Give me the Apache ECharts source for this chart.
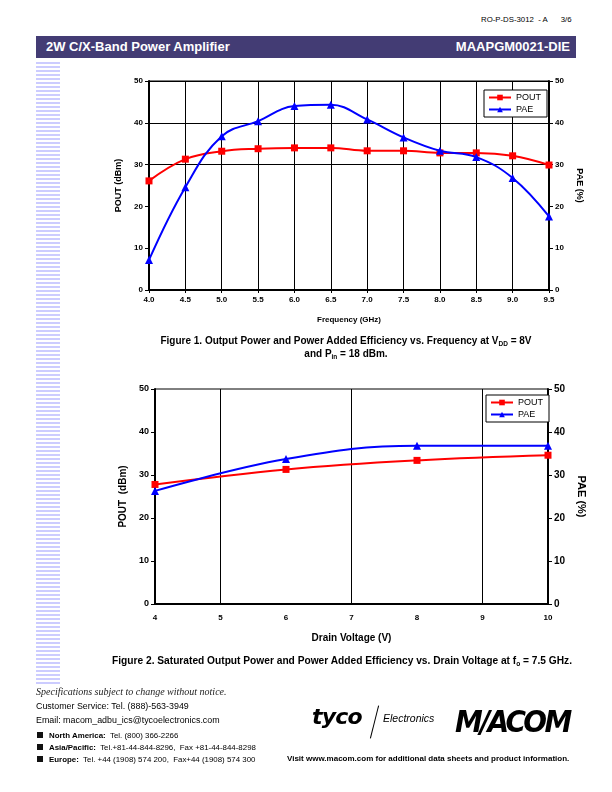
<!DOCTYPE html>
<html><head><meta charset="utf-8">
<script src="https://cdn.jsdelivr.net/npm/echarts@6/dist/echarts.min.js"></script>
<style>
html,body{margin:0;padding:0;background:#fff;}
body{width:612px;height:792px;position:relative;overflow:hidden;font-family:"Liberation Sans",Arial,sans-serif;}
#chart{position:absolute;left:0;top:0;width:612px;height:792px;}
.t{position:absolute;white-space:nowrap;color:#000;}
#stripes{position:absolute;left:36px;top:62px;width:24px;height:624px;
background:repeating-linear-gradient(to bottom,#ccccff 0px,#ccccff 2px,#ffffff 2px,#ffffff 4px);}
#banner{position:absolute;left:36px;top:36px;width:540px;height:22px;background:#433c74;}
sub{font-size:65%;vertical-align:-2px;}
</style></head>
<body>
<div id="stripes"></div>
<div id="banner"></div>
<div class="t" style="left:481px;top:15px;font-size:7.8px;">RO-P-DS-3012&nbsp; - A&nbsp;&nbsp;&nbsp;&nbsp;&nbsp; 3/6</div>
<div class="t" style="left:46px;top:39px;font-size:13px;font-weight:bold;color:#fff;">2W C/X-Band Power Amplifier</div>
<div class="t" style="right:42px;top:39px;font-size:13px;font-weight:bold;color:#fff;">MAAPGM0021-DIE</div>
<div id="chart"></div>
<div class="t" style="left:0;width:692px;top:335px;font-size:10px;font-weight:bold;text-align:center;">Figure 1. Output Power and Power Added Efficiency vs. Frequency at V<sub>DD</sub> = 8V</div>
<div class="t" style="left:0;width:692px;top:348px;font-size:10px;font-weight:bold;text-align:center;">and P<sub>in</sub> = 18 dBm.</div>
<div class="t" style="left:112px;top:655px;font-size:10.2px;font-weight:bold;">Figure 2. Saturated Output Power and Power Added Efficiency vs. Drain Voltage at f<sub>o</sub> = 7.5 GHz.</div>

<div class="t" style="left:36px;top:686px;font-size:10px;font-style:italic;font-family:'Liberation Serif',serif;color:#222;">Specifications subject to change without notice.</div>
<div class="t" style="left:36px;top:701px;font-size:8.9px;">Customer Service: Tel. (888)-563-3949</div>
<div class="t" style="left:36px;top:715px;font-size:8.9px;">Email: macom_adbu_ics@tycoelectronics.com</div>
<div class="t" style="left:37px;top:731px;font-size:7.9px;"><span style="display:inline-block;width:6px;height:6px;background:#111;margin-right:6px;"></span><b>North America:</b>&nbsp; Tel. (800) 366-2266</div>
<div class="t" style="left:37px;top:743px;font-size:7.9px;"><span style="display:inline-block;width:6px;height:6px;background:#111;margin-right:6px;"></span><b>Asia/Pacific:</b>&nbsp; Tel.+81-44-844-8296,&nbsp; Fax +81-44-844-8298</div>
<div class="t" style="left:37px;top:755px;font-size:7.9px;"><span style="display:inline-block;width:6px;height:6px;background:#111;margin-right:6px;"></span><b>Europe:</b>&nbsp; Tel. +44 (1908) 574 200,&nbsp; Fax+44 (1908) 574 300</div>
<div class="t" style="left:287px;top:754px;font-size:8px;font-weight:bold;">Visit www.macom.com for additional data sheets and product information.</div>

<div class="t" style="left:312px;top:704px;font-size:22px;font-weight:900;font-style:italic;font-family:'DejaVu Sans',sans-serif;letter-spacing:-0.8px;">tyco</div>
<div style="position:absolute;left:374px;top:705px;width:1px;height:34px;background:#000;transform:rotate(14deg);"></div>
<div class="t" style="left:383px;top:712px;font-size:10.5px;font-style:italic;">Electronics</div>
<div class="t" style="left:455px;top:703px;font-size:31px;font-weight:900;font-style:italic;font-family:'DejaVu Sans',sans-serif;letter-spacing:-3px;transform:scaleX(0.9);transform-origin:left;">M/ACOM</div>

<script>
// ---- Data ----
const freqGHz = [4.0, 4.5, 5.0, 5.5, 6.0, 6.5, 7.0, 7.5, 8.0, 8.5, 9.0, 9.5];
const poutFreq = [26.1, 31.3, 33.2, 33.8, 34.0, 34.0, 33.3, 33.3, 32.8, 32.8, 32.1, 29.9];
const paeFreq  = [7.2, 24.6, 36.8, 40.4, 44.0, 44.3, 40.8, 36.5, 33.3, 31.8, 26.8, 17.6];
const drainV   = [4, 6, 8, 10];
const poutVdd  = [27.8, 31.3, 33.4, 34.6];
const paeVdd   = [26.3, 33.7, 36.8, 36.8];
const seriesNames = ['POUT', 'PAE'];

const zip = (xs, ys) => xs.map((x, i) => [x, ys[i]]);
const F = '"Liberation Sans", Arial, sans-serif';
const clear = 'rgba(0,0,0,0)';

function yAxis(gi, pos, name, fs, nfs, nameGap, showTicks) {
  return {
    type: 'value', gridIndex: gi, position: pos, min: 0, max: 50, interval: 10,
    name: name, nameLocation: 'middle', nameGap: nameGap,
    nameRotate: pos === 'left' ? 90 : -90,
    nameTextStyle: {fontFamily: F, fontWeight: 'bold', fontSize: nfs, color: '#000'},
    axisLine: {show: true, lineStyle: {color: '#000', width: 2}},
    axisTick: {show: showTicks, length: 4, lineStyle: {color: '#000'}},
    axisLabel: {fontFamily: F, fontWeight: 'bold', fontSize: fs, color: '#000', margin: 6},
    splitLine: {show: false}
  };
}

const chart = echarts.init(document.getElementById('chart'), null, {renderer: 'canvas'});
const opt = {
  animation: false,
  backgroundColor: 'transparent',
  grid: [
    {left: 149, top: 81, width: 400, height: 209, show: true, borderColor: '#000', borderWidth: 1, backgroundColor: 'transparent'},
    {left: 155, top: 389, width: 393, height: 215, show: true, borderColor: '#000', borderWidth: 1, backgroundColor: 'transparent'}
  ],
  legend: [
    {data: seriesNames, left: 484, top: 90, orient: 'vertical', backgroundColor: '#fff',
     borderColor: '#000', borderWidth: 1, padding: [3, 6, 3, 4], itemGap: 3, itemWidth: 22, itemHeight: 7,
     textStyle: {fontFamily: F, fontSize: 9, color: '#000'}},
    {data: seriesNames, left: 486, top: 395, orient: 'vertical', backgroundColor: '#fff',
     borderColor: '#000', borderWidth: 1, padding: [3, 6, 3, 4], itemGap: 3, itemWidth: 22, itemHeight: 7,
     textStyle: {fontFamily: F, fontSize: 9, color: '#000'}}
  ],
  xAxis: [
    {type: 'value', gridIndex: 0, min: 4, max: 9.5, interval: 0.5,
     name: 'Frequency (GHz)', nameLocation: 'middle', nameGap: 26,
     nameTextStyle: {fontFamily: F, fontWeight: 'bold', fontSize: 8, color: '#000'},
     axisLine: {show: true, lineStyle: {color: '#000', width: 2}},
     axisTick: {show: true, length: 3, lineStyle: {color: '#000'}},
     axisLabel: {fontFamily: F, fontWeight: 'bold', fontSize: 8, color: '#000', margin: 6, formatter: v => v.toFixed(1)},
     splitLine: {show: true, lineStyle: {color: '#000', width: 1}}},
    {type: 'value', gridIndex: 1, min: 4, max: 10, interval: 1,
     name: 'Drain Voltage (V)', nameLocation: 'middle', nameGap: 29,
     nameTextStyle: {fontFamily: F, fontWeight: 'bold', fontSize: 10, color: '#000'},
     axisLine: {show: true, lineStyle: {color: '#000', width: 2}},
     axisTick: {show: false},
     axisLabel: {fontFamily: F, fontWeight: 'bold', fontSize: 8, color: '#000', margin: 10},
     splitLine: {show: true, lineStyle: {color: [clear, '#000'], width: 1}}}
  ],
  yAxis: [
    Object.assign(yAxis(0, 'left', 'POUT (dBm)', 8, 9, 26, true),
      {splitLine: {show: true, lineStyle: {color: [clear, clear, clear, '#000', '#000', '#000'], width: 1}}}),
    yAxis(0, 'right', 'PAE (%)', 8, 9, 22, true),
    yAxis(1, 'left', 'POUT  (dBm)', 9, 10, 26, true),
    yAxis(1, 'right', 'PAE (%)', 10, 11, 26, true)
  ],
  series: [
    {name: 'POUT', type: 'line', xAxisIndex: 0, yAxisIndex: 0, smooth: 0.4, data: zip(freqGHz, poutFreq),
     symbol: 'rect', symbolSize: 7, itemStyle: {color: '#ff0000'}, lineStyle: {color: '#ff0000', width: 2}, z: 3},
    {name: 'PAE', type: 'line', xAxisIndex: 0, yAxisIndex: 1, smooth: 0.4, data: zip(freqGHz, paeFreq),
     symbol: 'triangle', symbolSize: 8, itemStyle: {color: '#0000ff'}, lineStyle: {color: '#0000ff', width: 2}, z: 4},
    {name: 'POUT', type: 'line', xAxisIndex: 1, yAxisIndex: 2, smooth: 0.4, data: zip(drainV, poutVdd),
     symbol: 'rect', symbolSize: 7, itemStyle: {color: '#ff0000'}, lineStyle: {color: '#ff0000', width: 2}, z: 3},
    {name: 'PAE', type: 'line', xAxisIndex: 1, yAxisIndex: 3, smooth: 0.4, data: zip(drainV, paeVdd),
     symbol: 'triangle', symbolSize: 8, itemStyle: {color: '#0000ff'}, lineStyle: {color: '#0000ff', width: 2}, z: 4}
  ]
};
chart.setOption(opt);
</script>
</body></html>
